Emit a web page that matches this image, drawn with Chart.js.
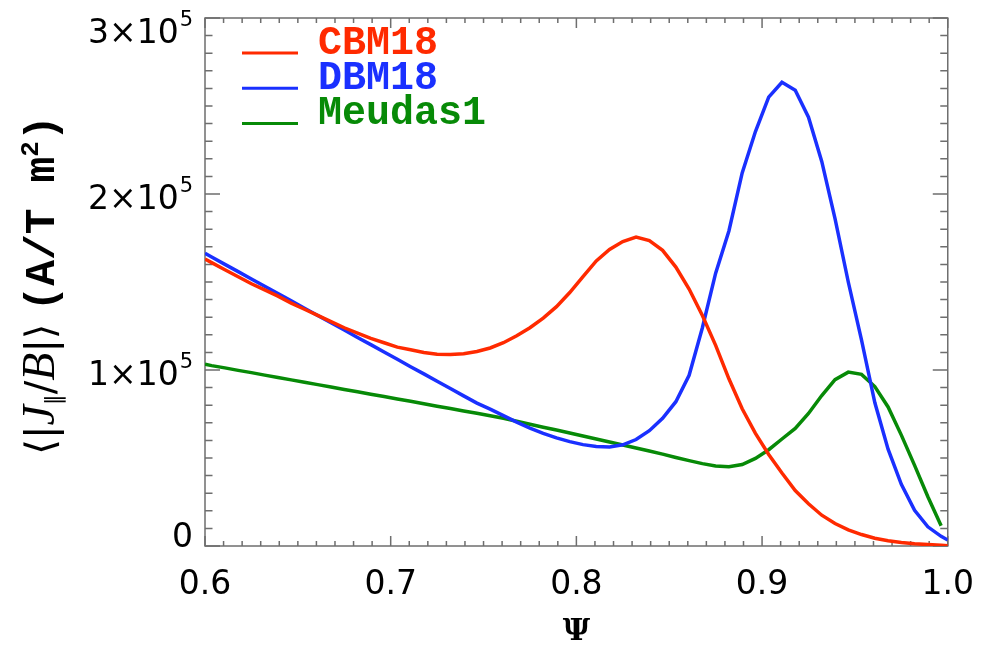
<!DOCTYPE html>
<html>
<head>
<meta charset="utf-8">
<script src="https://cdn.jsdelivr.net/npm/chart.js@4.4.1/dist/chart.umd.min.js"></script>
<style>
  html, body { margin: 0; padding: 0; background: #fff; }
  #wrap { width: 994px; height: 645px; }
</style>
</head>
<body>
<div id="wrap"><canvas id="jbChart" width="994" height="645"></canvas></div>
<script>
// Psi grid (x values)
const psi = [0.6,
  0.60357, 0.61071, 0.61786, 0.62500, 0.63214, 0.63929, 0.64643, 0.65357, 0.66071, 0.66786,
  0.67500, 0.68214, 0.68929, 0.69643, 0.70357, 0.71071, 0.71786, 0.72500, 0.73214, 0.73929,
  0.74643, 0.75357, 0.76071, 0.76786, 0.77500, 0.78214, 0.78929, 0.79643, 0.80357, 0.81071,
  0.81786, 0.82500, 0.83214, 0.83929, 0.84643, 0.85357, 0.86071, 0.86786, 0.87500, 0.88214,
  0.88929, 0.89643, 0.90357, 0.91071, 0.91786, 0.92500, 0.93214, 0.93929, 0.94643, 0.95357,
  0.96071, 0.96786, 0.97500, 0.98214, 0.98929, 0.99643,
  1.0];

// <|J_par/B|> in units of 1e3 A/(T m^2)
const cbm18 = [163,
  161, 157, 153, 149, 145.5, 142, 138, 134.5, 131, 127.5,
  124, 121, 118, 115.5, 113, 111.5, 110, 109, 108.8, 109.2,
  110.5, 112.5, 115.5, 119.5, 124, 129.5, 136, 144, 153, 162,
  168.5, 173, 175.5, 173.5, 168, 158.5, 146, 131, 114, 95,
  78, 64, 52, 41.5, 31.5, 24, 17.5, 12.8, 9.2, 6.5,
  4.4, 3, 2, 1.3, 0.8, 0.4,
  0.2];

const dbm18 = [166.3,
  164.2, 160.0, 155.9, 151.7, 147.6, 143.4, 139.3, 135.1, 131.0, 126.8,
  122.7, 118.5, 114.4, 110.2, 106.1, 101.9, 97.8, 93.6, 89.5, 85.3,
  81.2, 77.8, 74.1, 70.4, 67, 64, 61.4, 59.3, 57.6, 56.6,
  56.3, 57.5, 60.5, 65.5, 72.5, 82, 97, 124, 155, 179,
  212, 235.5, 255, 263.5, 259, 243.6, 218.5, 186, 150, 117,
  81.5, 55, 35, 20.3, 10.9, 5.5,
  3.4];

const meudas1 = [103.3,
  102.5, 101.2, 99.8, 98.5, 97.1, 95.7, 94.4, 93.0, 91.7, 90.3,
  88.9, 87.6, 86.2, 84.9, 83.5, 82.2, 80.8, 79.4, 78.1, 76.7,
  75.4, 74.0, 72.6, 70.9, 69.2, 67.5, 65.9, 64.2, 62.5, 60.8,
  59.1, 57.4, 55.7, 54.0, 52.2, 50.3, 48.5, 46.8, 45.5, 45.0,
  46.3, 49.8, 54.7, 60.8, 66.8, 75.3, 85.5, 94.5, 98.8, 97.5,
  90.6, 79, 63, 45.8, 28, 11.5,
  null];

const seriesNames = ['CBM18', 'DBM18', 'Meudas1'];
const seriesColors = ['#ff2a00', '#1a30ff', '#078a07'];

// tick labels
const xMajor = [0.6, 0.7, 0.8, 0.9, 1.0];
const xTickLabels = ['0.6', '0.7', '0.8', '0.9', '1.0'];
const yMajor = [0, 100, 200, 300];
const yTickText = ['0', '1\u00d710', '2\u00d710', '3\u00d710'];
const yTickExp = ['', '5', '5', '5'];

function toPoints(vals) {
  return psi.map((p, i) => ({ x: p, y: vals[i] }));
}

function majorIndex(list, v) {
  return list.findIndex(m => Math.abs(m - v) < 1e-6);
}

const axisStyle = {
  id: 'axisStyle',
  beforeDatasetsDraw(chart) {
    const { ctx, chartArea: a, scales: { x, y } } = chart;
    ctx.save();
    ctx.strokeStyle = '#6e6e6e';
    ctx.lineWidth = 1.5;
    ctx.strokeRect(a.left, a.top, a.right - a.left, a.bottom - a.top);
    ctx.beginPath();
    x.ticks.forEach(t => {
      const px = x.getPixelForValue(t.value);
      const len = majorIndex(xMajor, t.value) >= 0 ? 10 : 5;
      ctx.moveTo(px, a.bottom); ctx.lineTo(px, a.bottom - len);
      ctx.moveTo(px, a.top); ctx.lineTo(px, a.top + len);
    });
    y.ticks.forEach(t => {
      const py = y.getPixelForValue(t.value);
      const len = majorIndex(yMajor, t.value) >= 0 ? 15 : 7.5;
      ctx.moveTo(a.left, py); ctx.lineTo(a.left + len, py);
      ctx.moveTo(a.right, py); ctx.lineTo(a.right - len, py);
    });
    ctx.stroke();
    ctx.restore();
  },
  afterDraw(chart) {
    const { ctx, chartArea: a, scales: { y } } = chart;
    ctx.save();
    ctx.fillStyle = '#000';
    ctx.textBaseline = 'alphabetic';

    // y tick labels with superscript exponent
    const mainFont = '33px "DejaVu Sans"';
    const expFont = '21px "DejaVu Sans"';
    yMajor.forEach((v, i) => {
      const py = y.getPixelForValue(v);
      const base = Math.min(Math.max(py + 15, a.top + 25), a.bottom + 1);
      ctx.font = mainFont;
      const wMain = ctx.measureText(yTickText[i]).width;
      ctx.font = expFont;
      const wExp = yTickExp[i] ? ctx.measureText(yTickExp[i]).width + 1 : 0;
      const x0 = 193 - wMain - wExp;
      ctx.font = mainFont;
      ctx.textAlign = 'left';
      ctx.fillText(yTickText[i], x0, base);
      if (yTickExp[i]) {
        ctx.font = expFont;
        ctx.fillText(yTickExp[i], x0 + wMain + 1, base - 17);
      }
    });

    // y axis title, rotated, mixed fonts
    const parts = [
      { t: '\u27e8', f: '40px "DejaVu Sans"', dy: 0, gap: 0 },
      { t: '|', f: '40px "DejaVu Sans"', dy: 0, gap: 0 },
      { t: 'J', f: 'italic 46px "Liberation Serif"', dy: 0, gap: 0 },
      { t: '\u2225', f: '22px "DejaVu Sans"', dy: 7, gap: 0 },
      { t: '/', f: '40px "DejaVu Sans"', dy: 0, gap: 0 },
      { t: 'B', f: 'italic 46px "Liberation Serif"', dy: 0, gap: 0 },
      { t: '|\u27e9', f: '40px "DejaVu Sans"', dy: 0, gap: 0 },
      { t: '(A/T m', f: 'bold 43px "Liberation Mono"', dy: 0, gap: 12 },
      { t: '2', f: 'bold 26px "Liberation Mono"', dy: -16, gap: 0 },
      { t: ')', f: 'bold 43px "Liberation Mono"', dy: 0, gap: 0 }
    ];
    let total = 0;
    parts.forEach(p => { ctx.font = p.f; p.w = ctx.measureText(p.t).width; total += p.w + p.gap; });
    ctx.translate(54, 285 + total / 2);
    ctx.rotate(-Math.PI / 2);
    let cx = 0;
    parts.forEach(p => { cx += p.gap; ctx.font = p.f; ctx.fillText(p.t, cx, p.dy); cx += p.w; });
    ctx.restore();

    // legend inside the plot
    ctx.save();
    ctx.font = 'bold 40px "Liberation Mono"';
    ctx.textBaseline = 'alphabetic';
    chart.data.datasets.forEach((ds, i) => {
      const yb = 53.5 + i * 35.3;
      ctx.strokeStyle = ds.borderColor;
      ctx.lineWidth = 3;
      ctx.beginPath();
      ctx.moveTo(242, yb - 0.5);
      ctx.lineTo(298, yb - 0.5);
      ctx.stroke();
      ctx.fillStyle = ds.borderColor;
      ctx.fillText(ds.label, 318, yb);
    });
    ctx.restore();
  }
};

const ctx = document.getElementById('jbChart').getContext('2d');
new Chart(ctx, {
  type: 'line',
  data: {
    datasets: [cbm18, dbm18, meudas1].map((vals, i) => ({
      label: seriesNames[i],
      data: toPoints(vals),
      borderColor: seriesColors[i],
      backgroundColor: seriesColors[i],
      borderWidth: 3.5,
      pointRadius: 0,
      tension: 0,
      fill: false
    }))
  },
  options: {
    responsive: false,
    animation: false,
    devicePixelRatio: 1,
    layout: { padding: { top: 18, right: 43, left: 0, bottom: 0 } },
    plugins: { legend: { display: false }, tooltip: { enabled: false } },
    scales: {
      x: {
        type: 'linear',
        min: 0.6,
        max: 1.0,
        grid: { display: false, drawTicks: false },
        border: { display: false },
        ticks: {
          stepSize: 0.01,
          autoSkip: false,
          maxTicksLimit: 100,
          maxRotation: 0,
          padding: 20,
          color: '#000',
          font: { family: 'DejaVu Sans', size: 33 },
          callback: v => {
            const k = majorIndex(xMajor, v);
            return k >= 0 ? xTickLabels[k] : '';
          }
        },
        title: {
          display: true,
          text: '\u03a8',
          color: '#000',
          font: { family: 'DejaVu Serif', size: 30, weight: 'bold', lineHeight: 0.8 },
          padding: { top: 0, bottom: 1 }
        },
        afterFit: s => { s.height = 99; }
      },
      y: {
        min: 0,
        max: 300,
        grid: { display: false, drawTicks: false },
        border: { display: false },
        ticks: { display: false, stepSize: 10, maxTicksLimit: 100, autoSkip: false },
        afterFit: s => { s.width = 205; }
      }
    }
  },
  plugins: [axisStyle]
});
</script>
</body>
</html>
